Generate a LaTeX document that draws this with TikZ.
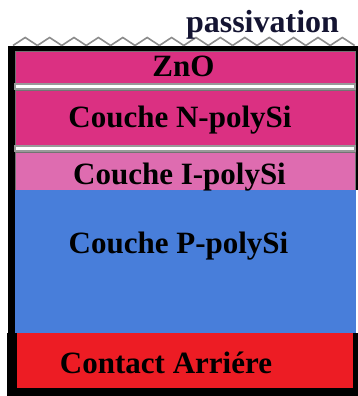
\documentclass[tikz,border=0pt]{standalone}
\usepackage{fontspec}
\setmainfont{Liberation Serif}
\usetikzlibrary{positioning}
\definecolor{znopink}{RGB}{219,48,130}
\definecolor{ipink}{RGB}{222,108,176}
\definecolor{pblue}{RGB}{72,126,218}
\definecolor{contactred}{RGB}{237,28,36}
\definecolor{navy}{RGB}{20,20,50}

\begin{document}
\begin{tikzpicture}[
    x=1pt, y=-1pt,
    layer/.style ={
        draw=black!55,
        line width=0.8pt
    },
    strip/.style ={
        fill=white,
        draw=black!40,
        line width=1.2pt
    },
    zig/.style ={
        draw=black!45,
        line width=1.6pt,
        line join=miter
    },
    lbl/.style ={
        anchor=base,
        inner sep=0pt,
        font=\fontsize{31}{36}\selectfont\bfseries
    }
    ]
    \useasboundingbox (0,0) rectangle (358,396);

    % frame
    \fill[black] (8,46) rectangle (358,51);
    \fill[black] (8,46) rectangle (15,333);
    \fill[black] (356,46) rectangle (358,190);
    \fill[black] (7,333) rectangle (358,396);

    % passivation
    \foreach \i in {0,...,13}
        \draw[zig] (13+24.4*\i,45.5) -- (25.2+24.4*\i,37.5) -- (37.4+24.4*\i,45.5);

    % layers
    \path[layer, fill=znopink] (15,51) rectangle (355,83);
    \path[strip] (15,84) rectangle (355,89);
    \path[layer, fill=znopink] (15,90) rectangle (355,145);
    \path[strip] (15,146) rectangle (355,151);
    \path[layer, fill=ipink] (15,152) rectangle (355,190);
    \fill[pblue] (15,190) rectangle (356,333);
    \fill[contactred] (17,333) rectangle (353,388);

    \node[lbl, navy, font=\fontsize{32}{36}\selectfont\bfseries] (passiv) at (262.5,33) {passivation};
    \node[lbl] (zno) at (183.5,77) {ZnO};
    \node[lbl] (npoly) at (180,127) {Couche N-polySi};
    \node[lbl] (ipoly) at (179.5,184) {Couche I-polySi};
    \node[lbl] (ppoly) at (178.5,253) {Couche P-polySi};
    \node[lbl] (contact) at (166,373) {Contact Arriére};
\end{tikzpicture}
\end{document}
